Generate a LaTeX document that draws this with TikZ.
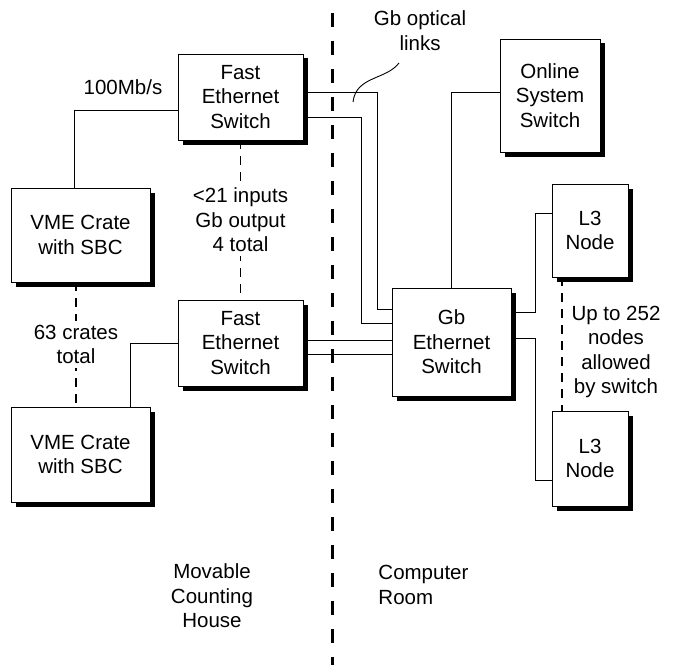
\documentclass[tikz,border=0pt]{standalone}
\usepackage{fontspec}
\setmainfont{Liberation Sans}
\usepackage{tikz}
\usetikzlibrary{calc}

\begin{document}
\begin{tikzpicture}[x=1pt,y=-1pt,line width=0.9pt,
  font=\fontsize{20.5}{24.5}\selectfont,
  unit/.style={draw,fill=white,align=center,inner sep=0pt},
  ghost/.style={fill=black,inner sep=0pt,outer sep=0pt},
  linkdash/.style={line width=1.5pt,dash pattern=on 9pt off 7pt},
  wall/.style={line width=3pt,dash pattern=on 14pt off 14pt},
  note/.style={align=center,inner sep=4pt}]
\useasboundingbox (0,0) rectangle (674,669);

% room divider
\coordinate (wtop) at (332,13);
\coordinate (wbot) at (332,665);
\draw[wall] (wtop) -- (wbot);

% box centres
\coordinate (vme1c) at (80.5,235);
\coordinate (vme2c) at (80.5,454.5);
\coordinate (fe1c) at (240.5,97);
\coordinate (fe2c) at (240.5,343);
\coordinate (gbc) at (451.5,342);
\coordinate (onc) at (550,95.5);
\coordinate (l3ac) at (590,230.5);
\coordinate (l3bc) at (590,458.5);

% shadows
\foreach \c/\w/\h in {vme1c/139/94,vme2c/139/95,fe1c/125/86,fe2c/125/86,
  gbc/119/108,onc/100/113,l3ac/76/93,l3bc/76/95}{
  \node[ghost,minimum width=\w,minimum height=\h] at ([shift={(4.5pt,-4.5pt)}]\c) {};
}

% crates and switches
\node[unit,minimum width=139,minimum height=94] (vme1) at (vme1c) {VME Crate\\with SBC};
\node[unit,minimum width=139,minimum height=95] (vme2) at (vme2c) {VME Crate\\with SBC};
\node[unit,minimum width=125,minimum height=86] (fe1) at (fe1c) {Fast\\Ethernet\\Switch};
\node[unit,minimum width=125,minimum height=86] (fe2) at (fe2c) {Fast\\Ethernet\\Switch};
\node[unit,minimum width=119,minimum height=108] (gb) at (gbc) {Gb\\Ethernet\\Switch};
\node[unit,minimum width=100,minimum height=113] (online) at (onc) {Online\\System\\Switch};
\node[unit,minimum width=76,minimum height=93] (l3a) at (l3ac) {L3\\Node};
\node[unit,minimum width=76,minimum height=95] (l3b) at (l3bc) {L3\\Node};

% 100Mb/s links
\draw ([xshift=-6.5pt]vme1.north) |- ([yshift=-13pt]fe1.west);
\draw ([xshift=49.5pt]vme2.north) |- (fe2.west);
\node (rate) at (123,87) {100Mb/s};

% Gb links
\draw ([yshift=5pt]fe1.east) -- ++(74,0) |- ([yshift=33pt]gb.west);
\draw ([yshift=-20pt]fe1.east) -- ++(58,0) |- ([yshift=19pt]gb.west);
\draw ([yshift=3pt]fe2.east) -- ([yshift=3pt]fe2.east -| gb.west);
\draw ([yshift=-11pt]fe2.east) -- ([yshift=-11pt]fe2.east -| gb.west);
\draw (gb.north) |- ([yshift=3.5pt]online.west);
\draw ([yshift=30pt]gb.east) -- ++(24,0) |- ([yshift=17.5pt]l3a.west);
\draw ([yshift=4pt]gb.east) -- ++(24,0) |- ([yshift=-21.5pt]l3b.west);

% optical link callout
\node[align=center] (optic) at (420,30.5) {Gb optical\\links};
\coordinate (tap) at (353,102);
\coordinate (lnk) at (399,63);
\draw (tap) .. controls (356,76) and (386,80) .. (lnk);

% counts
\draw[linkdash] ([xshift=-4.5pt]vme1.south) -- node[note,fill=white] (ncrate) {63 crates\\total} ([xshift=-4.5pt]vme2.north);
\draw[linkdash] (fe1.south) -- node[note,fill=white] (nfe) {<21 inputs\\Gb output\\4 total} (fe2.north);
\draw[linkdash] ([xshift=-28pt]l3a.south) -- ([xshift=-28pt]l3b.north);
\node[align=center] (nl3) at (616,352) {Up to 252\\nodes\\allowed\\by switch};

% rooms
\node[align=center] (mch) at (212,596) {Movable\\Counting\\House};
\node[align=left,anchor=west,inner sep=0pt] (room) at (378,585) {Computer\\Room};

\end{tikzpicture}
\end{document}
